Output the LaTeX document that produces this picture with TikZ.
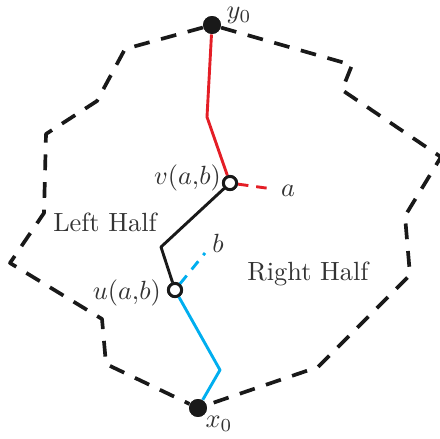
\documentclass[tikz,border=0pt]{standalone}
\usepackage{xcolor}
\usepackage{tikz}
\usetikzlibrary{positioning}
\definecolor{pathred}{RGB}{228,30,38}
\definecolor{pathblue}{RGB}{0,174,239}
\tikzset{
  bnd/.style    ={line width=1.4pt, dash pattern=on 6pt off 4.5pt, black!90, line join=round},
  seg/.style    ={line width=1.1pt, line join=round},
  endpt/.style  ={circle, fill=black!90, inner sep=0pt, minimum size=6.8pt},
  cut/.style    ={circle, draw=black!90, fill=white, line width=1.1pt, inner sep=0pt, minimum size=5pt},
  lbl/.style    ={text=black!80, inner sep=1pt},
}

\begin{document}
\begin{tikzpicture}[x=0.38pt, y=-0.38pt]
  \useasboundingbox (0,0) rectangle (440,439);

  % boundary corners
  \coordinate (l1) at (125,49);  \coordinate (l2) at (97,101);
  \coordinate (l3) at (46,134);  \coordinate (l4) at (44,213);
  \coordinate (l5) at (10,263);  \coordinate (l6) at (102,319);
  \coordinate (l7) at (106,364);
  \coordinate (r1) at (352,65);  \coordinate (r2) at (342,90);
  \coordinate (r3) at (441,157); \coordinate (r4) at (405,216);
  \coordinate (r5) at (410,275); \coordinate (r6) at (318,367);
  % bends of the paths
  \coordinate (top) at (207,117);
  \coordinate (mid) at (161,247);
  \coordinate (bot) at (220,370);
  \coordinate (ea) at (273,189);
  \coordinate (eb) at (205,253);

  \node[endpt] (y0) at (212,25) {};
  \node[endpt] (x0) at (198,408) {};
  \node[cut]   (v)  at (230,183) {};
  \node[cut]   (u)  at (175,290) {};

  \draw[bnd] (y0) -- (l1) -- (l2) -- (l3) -- (l4) -- (l5) -- (l6) -- (l7) -- (x0);
  \draw[bnd] (y0) -- (r1) -- (r2) -- (r3) -- (r4) -- (r5) -- (r6) -- (x0);

  \draw[seg, pathred] (y0) -- (top) -- (v);
  \draw[seg, pathred, dash pattern=on 4pt off 3pt] (v) -- (ea);
  \draw[seg, black!90] (v) -- (mid) -- (u);
  \draw[seg, pathblue, dash pattern=on 4pt off 3pt] (u) -- (eb);
  \draw[seg, pathblue] (u) -- (bot) -- (x0);

  % redraw the joints on top
  \node[endpt] at (y0) {};
  \node[endpt] at (x0) {};
  \node[cut]   at (v) {};
  \node[cut]   at (u) {};

  \node[lbl, inner sep=0pt] (ly0) at (239,15)  {$y_0$};
  \node[lbl] (lx0) at (219,424) {$x_0$};
  \node[lbl] (la)  at (288,191) {$a$};
  \node[lbl] (lb)  at (218,243) {$b$};
  \node[lbl, anchor=east] (lv) at (224,178) {$v(a{,}b)$};
  \node[lbl, anchor=east] (lu) at (164,293) {$u(a{,}b)$};
  \node[lbl] (left)  at (105,222) {Left Half};
  \node[lbl] (right) at (308,274) {Right Half};
\end{tikzpicture}
\end{document}
